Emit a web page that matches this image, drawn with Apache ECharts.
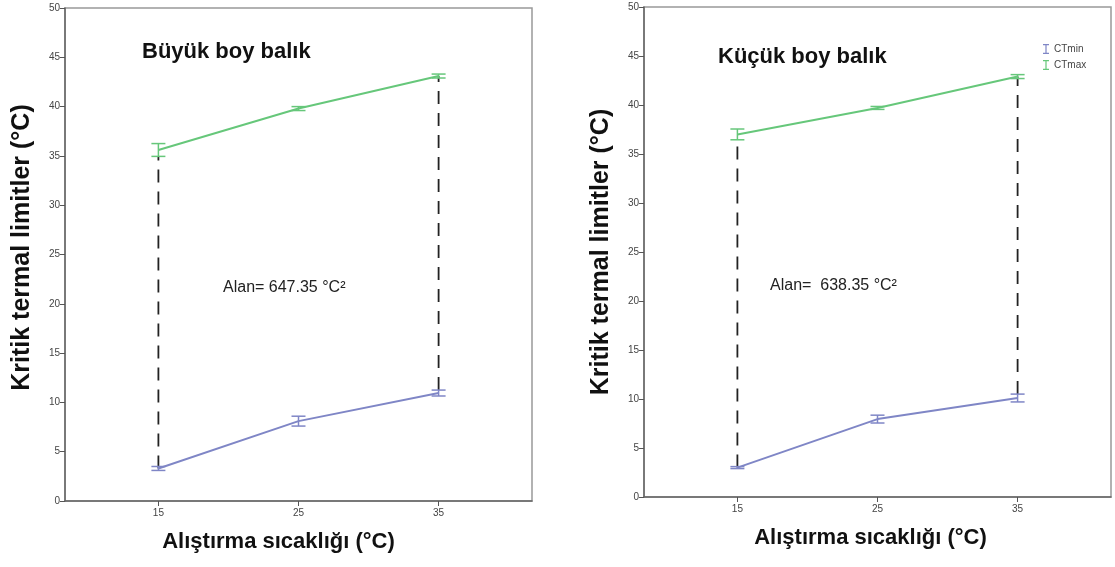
<!DOCTYPE html>
<html>
<head>
<meta charset="utf-8">
<script src="https://cdn.jsdelivr.net/npm/echarts@6/dist/echarts.min.js"></script>
<style>html,body{margin:0;padding:0;background:#fff;}#c{width:1115px;height:567px;}</style>
</head>
<body>
<div id="c"></div>
<script>
// ---- data ----
const categories = [15, 25, 35];
const yTicks = [0, 5, 10, 15, 20, 25, 30, 35, 40, 45, 50];
const bigCTmax = [35.6, 39.8, 43.1];
const bigCTmaxErr = [0.65, 0.2, 0.2];
const bigCTmin = [3.3, 8.1, 10.95];
const bigCTminErr = [0.2, 0.5, 0.3];
const smallCTmax = [37.0, 39.7, 42.9];
const smallCTmaxErr = [0.55, 0.15, 0.2];
const smallCTmin = [3.0, 7.95, 10.1];
const smallCTminErr = [0.1, 0.4, 0.4];
const titles = ['Büyük boy balık', 'Küçük boy balık'];
const areaTexts = ['Alan= 647.35 °C²', 'Alan=  638.35 °C²'];

const GREEN = '#66c77a';
const BLUE = '#7f86c6';
const FONT = '"Liberation Sans", Arial, sans-serif';

function pairs(vals) { return categories.map((c, i) => [c, vals[i]]); }
function errPairs(vals, errs) { return categories.map((c, i) => [c, vals[i], errs[i]]); }

function errRender(color) {
  return function (params, api) {
    const x = api.value(0), v = api.value(1), e = api.value(2);
    const t = api.coord([x, v + e]), b = api.coord([x, v - e]);
    const hw = 7;
    const st = { stroke: color, lineWidth: 1.5 };
    return {
      type: 'group',
      children: [
        { type: 'line', shape: { x1: t[0], y1: t[1], x2: b[0], y2: b[1] }, style: st },
        { type: 'line', shape: { x1: t[0] - hw, y1: t[1], x2: t[0] + hw, y2: t[1] }, style: st },
        { type: 'line', shape: { x1: b[0] - hw, y1: b[1], x2: b[0] + hw, y2: b[1] }, style: st }
      ]
    };
  };
}

function makeX(idx, shift) {
  return {
    type: 'value', gridIndex: idx, min: 15 - 20 / 3, max: 35 + 20 / 3,
    name: 'Alıştırma sıcaklığı (°C)', nameLocation: 'middle', nameGap: 30,
    nameTextStyle: { fontSize: 22, fontWeight: 'bold', color: '#111', fontFamily: FONT, padding: [0, shift, 0, 0] },
    axisLine: { onZero: false, lineStyle: { color: '#666', width: 1.5 } },
    axisTick: { customValues: categories, length: 5, lineStyle: { color: '#555' } },
    axisLabel: { customValues: categories, fontSize: 10, color: '#444', fontFamily: FONT, margin: 7 },
    splitLine: { show: false }
  };
}
function makeY(idx, gap, shift) {
  return {
    type: 'value', gridIndex: idx, min: yTicks[0], max: yTicks[yTicks.length - 1], interval: 5,
    name: 'Kritik termal limitler (°C)', nameLocation: 'middle', nameGap: gap, nameRotate: 90,
    nameTextStyle: { fontSize: 25, fontWeight: 'bold', color: '#111', fontFamily: FONT, padding: [0, 0, 0, shift] },
    axisLine: { show: true, lineStyle: { color: '#666', width: 1.5 } },
    axisTick: { show: true, length: 5, lineStyle: { color: '#555' } },
    axisLabel: { fontSize: 10, color: '#444', fontFamily: FONT, margin: 5 },
    splitLine: { show: false }
  };
}

function seriesFor(idx, ctmax, ctmaxErr, ctmin, ctminErr) {
  const dash = { color: '#222', width: 1.8, type: [13, 9] };
  return [
    { type: 'line', name: 'CTmin', xAxisIndex: idx, yAxisIndex: idx, data: pairs(ctmin), symbol: 'none', lineStyle: { color: BLUE, width: 2 }, itemStyle: { color: BLUE }, z: 3 },
    { type: 'line', name: 'CTmax', xAxisIndex: idx, yAxisIndex: idx, data: pairs(ctmax), symbol: 'none', lineStyle: { color: GREEN, width: 2 }, itemStyle: { color: GREEN }, z: 3 },
    { type: 'custom', name: 'CTmin', xAxisIndex: idx, yAxisIndex: idx, data: errPairs(ctmin, ctminErr), renderItem: errRender(BLUE), itemStyle: { color: BLUE }, z: 4 },
    { type: 'custom', name: 'CTmax', xAxisIndex: idx, yAxisIndex: idx, data: errPairs(ctmax, ctmaxErr), renderItem: errRender(GREEN), itemStyle: { color: GREEN }, z: 4 },
    { type: 'line', name: 'dash1', xAxisIndex: idx, yAxisIndex: idx, data: [[categories[0], ctmin[0]], [categories[0], ctmax[0] - ctmaxErr[0]]], symbol: 'none', lineStyle: dash, z: 2 },
    { type: 'line', name: 'dash2', xAxisIndex: idx, yAxisIndex: idx, data: [[categories[2], ctmin[2] + ctminErr[2]], [categories[2], ctmax[2]]], symbol: 'none', lineStyle: dash, z: 2 }
  ];
}

const chart = echarts.init(document.getElementById('c'), null, { renderer: 'canvas' });
chart.setOption({
  animation: false,
  backgroundColor: '#fff',
  textStyle: { fontFamily: FONT },
  title: [
    { text: titles[0], left: 137, top: 36, textStyle: { fontSize: 22, fontWeight: 'bold', color: '#111', fontFamily: FONT } },
    { text: titles[1], left: 713, top: 41, textStyle: { fontSize: 22, fontWeight: 'bold', color: '#111', fontFamily: FONT } }
  ],
  legend: {
    data: ['CTmin', 'CTmax'], orient: 'vertical', left: 1038, top: 39, itemGap: 6,
    itemWidth: 6, itemHeight: 10,
    icon: 'path://M0,0h6v1.2h-2.4v7.6h2.4v1.2h-6v-1.2h2.4v-7.6h-2.4z',
    textStyle: { fontSize: 10, color: '#444', fontFamily: FONT }, selectedMode: false
  },
  grid: [
    { left: 65, top: 8, width: 467, height: 493, show: true, borderColor: '#999', borderWidth: 1.5 },
    { left: 644, top: 7, width: 467, height: 490, show: true, borderColor: '#999', borderWidth: 1.5 }
  ],
  xAxis: [makeX(0, 40), makeX(1, 14)],
  yAxis: [makeY(0, 30, 14), makeY(1, 30, 0)],
  graphic: [
    { type: 'text', left: 223, top: 280, style: { text: areaTexts[0], fontSize: 16, fill: '#222', fontFamily: FONT } },
    { type: 'text', left: 770, top: 278, style: { text: areaTexts[1], fontSize: 16, fill: '#222', fontFamily: FONT } }
  ],
  series: [].concat(
    seriesFor(0, bigCTmax, bigCTmaxErr, bigCTmin, bigCTminErr),
    seriesFor(1, smallCTmax, smallCTmaxErr, smallCTmin, smallCTminErr)
  )
});
</script>
</body>
</html>
